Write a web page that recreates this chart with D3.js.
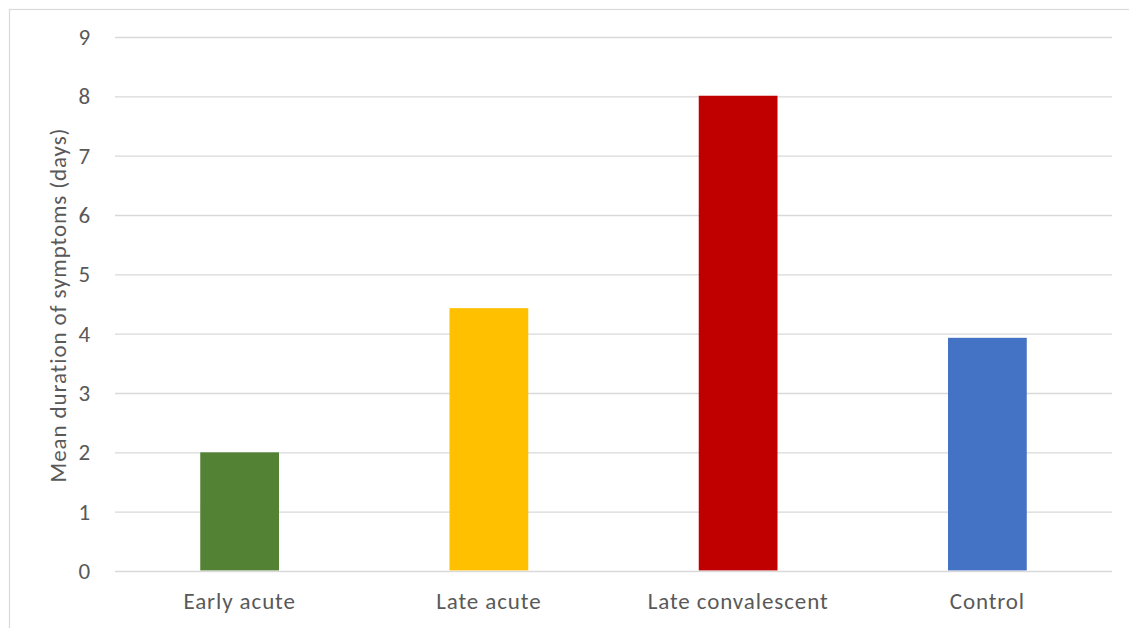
<!DOCTYPE html>
<html>
<head>
<meta charset="utf-8">
<script src="https://cdn.jsdelivr.net/npm/d3@7"></script>
<style>
  body { margin: 0; background: #fff; }
  svg text { font-family: Calibri, Carlito, Lato, sans-serif; letter-spacing: 0.9px; }
</style>
</head>
<body>
<svg id="chart" width="1129" height="628"></svg>
<script>
// values
const groups = ['Early acute', 'Late acute', 'Late convalescent', 'Control'];
const meanDays = [2.0, 4.43, 8.01, 3.93];
const barColors = ['#548235', '#ffc000', '#c00000', '#4472c4'];
const yTicks = [0, 1, 2, 3, 4, 5, 6, 7, 8, 9];

const margin = {
    top: 37,
    right: 17,
    left: 115,
    bottom: 57
};
const width = 1129 - margin.left - margin.right;
const height = 628 - margin.top - margin.bottom;
const fontSize = 23;

const svg = d3.select('#chart');

// outer chart frame (runs off the right and bottom of the picture)
svg.append('rect')
    .attr('x', 9.5)
    .attr('y', 9.5)
    .attr('width', 1140)
    .attr('height', 640)
    .attr('fill', 'none')
    .attr('stroke', '#d9d9d9')
    .attr('stroke-width', 1.2);

const g = svg.append('g')
    .attr('transform', `translate(${margin.left}, ${margin.top})`);

const x = d3.scaleBand()
    .domain(groups)
    .range([0, width])
    .paddingInner(0.684)
    .paddingOuter(0.342);

const y = d3.scaleLinear()
    .domain([0, 9])
    .range([height, 0]);

// y axis + gridlines
const yAxis = d3.axisLeft(y)
    .tickValues(yTicks)
    .tickSize(-width)
    .tickPadding(24)
    .tickFormat(d3.format('d'));

const yg = g.append('g').call(yAxis);
yg.select('.domain').remove();
yg.selectAll('.tick line')
    .attr('stroke', '#d9d9d9')
    .attr('stroke-width', 1.3);
yg.selectAll('.tick text')
    .attr('fill', '#595959')
    .attr('font-size', fontSize);

// bars
g.selectAll('rect.bar')
    .data(groups)
    .enter()
    .append('rect')
    .attr('class', 'bar')
    .attr('x', d => x(d))
    .attr('y', (d, i) => y(meanDays[i]))
    .attr('width', x.bandwidth())
    .attr('height', (d, i) => height - y(meanDays[i]) - 0.6)
    .attr('fill', (d, i) => barColors[i]);

// x axis
const xAxis = d3.axisBottom(x)
    .tickSize(0)
    .tickPadding(22);

const xg = g.append('g')
    .attr('transform', `translate(0, ${height})`)
    .call(xAxis);
xg.select('.domain').remove();
xg.selectAll('.tick text')
    .attr('fill', '#595959')
    .attr('font-size', fontSize);

// y axis title
svg.append('text')
    .attr('transform', `translate(66, ${margin.top + height / 2 + 1}) rotate(-90)`)
    .attr('text-anchor', 'middle')
    .attr('fill', '#595959')
    .attr('font-size', fontSize)
    .text('Mean duration of symptoms (days)');
</script>
</body>
</html>
